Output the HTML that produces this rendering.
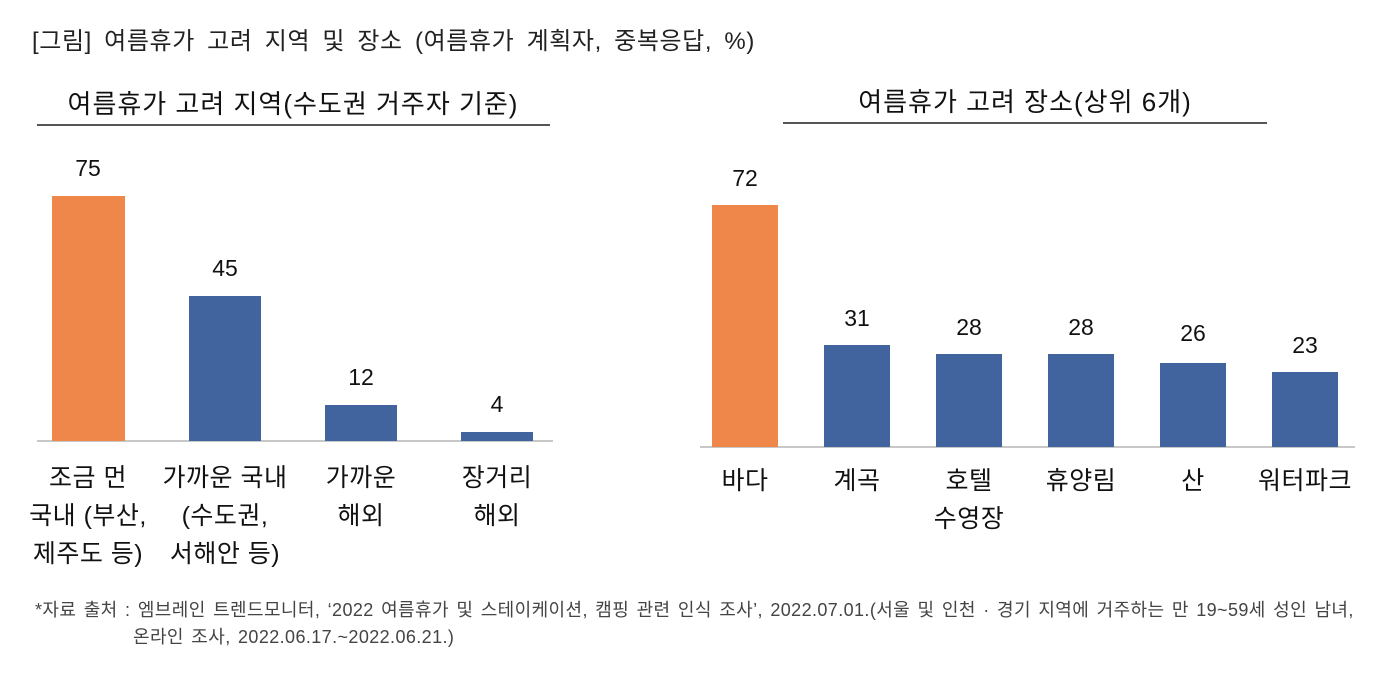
<!DOCTYPE html>
<html><head><meta charset="utf-8">
<style>
body{margin:0;width:1390px;height:674px;background:#fff;position:relative;overflow:hidden;font-family:"Liberation Sans","Noto Sans CJK KR",sans-serif;color:#111}
.a{position:absolute;white-space:nowrap}
.c{position:absolute;text-align:center;transform:translateX(-50%);white-space:nowrap}
.b{position:absolute}
.o{background:#F0874A}.u{background:#41649E}
.v{font-size:23px}
.cat{font-size:25px;line-height:38px;letter-spacing:0.5px}
</style></head><body>
<div class="a" style="left:32px;top:21px;font-size:24px;letter-spacing:0.6px;word-spacing:5px;color:#222">[그림] 여름휴가 고려 지역 및 장소 (여름휴가 계획자, 중복응답, %)</div>

<div class="c" style="left:293px;top:84px;font-size:26px;letter-spacing:1px">여름휴가 고려 지역(수도권 거주자 기준)</div>
<div class="b" style="left:37px;top:124px;width:513px;height:2px;background:#555"></div>
<div class="b" style="left:37px;top:440px;width:516px;height:2px;background:#c8c8c8"></div>
<div class="b o" style="left:52px;top:196px;width:73px;height:245px"></div>
<div class="b u" style="left:189px;top:296px;width:72px;height:145px"></div>
<div class="b u" style="left:325px;top:405px;width:72px;height:36px"></div>
<div class="b u" style="left:461px;top:432px;width:72px;height:9px"></div>
<div class="c v" style="left:88px;top:155px">75</div>
<div class="c v" style="left:225px;top:255px">45</div>
<div class="c v" style="left:361px;top:364px">12</div>
<div class="c v" style="left:497px;top:391px">4</div>
<div class="c cat" style="left:88px;top:459px">조금 먼<br>국내 (부산,<br>제주도 등)</div>
<div class="c cat" style="left:225px;top:459px">가까운 국내<br>(수도권,<br>서해안 등)</div>
<div class="c cat" style="left:361px;top:459px">가까운<br>해외</div>
<div class="c cat" style="left:497px;top:459px">장거리<br>해외</div>

<div class="c" style="left:1025px;top:82px;font-size:26px;letter-spacing:1px">여름휴가 고려 장소(상위 6개)</div>
<div class="b" style="left:783px;top:122px;width:484px;height:2px;background:#555"></div>
<div class="b" style="left:700px;top:446px;width:655px;height:2px;background:#c8c8c8"></div>
<div class="b o" style="left:712px;top:205px;width:66px;height:242px"></div>
<div class="b u" style="left:824px;top:345px;width:66px;height:102px"></div>
<div class="b u" style="left:936px;top:354px;width:66px;height:93px"></div>
<div class="b u" style="left:1048px;top:354px;width:66px;height:93px"></div>
<div class="b u" style="left:1160px;top:363px;width:66px;height:84px"></div>
<div class="b u" style="left:1272px;top:372px;width:66px;height:75px"></div>
<div class="c v" style="left:745px;top:165px">72</div>
<div class="c v" style="left:857px;top:305px">31</div>
<div class="c v" style="left:969px;top:314px">28</div>
<div class="c v" style="left:1081px;top:314px">28</div>
<div class="c v" style="left:1193px;top:320px">26</div>
<div class="c v" style="left:1305px;top:332px">23</div>
<div class="c cat" style="left:745px;top:462px">바다</div>
<div class="c cat" style="left:857px;top:462px">계곡</div>
<div class="c cat" style="left:969px;top:462px">호텔<br>수영장</div>
<div class="c cat" style="left:1081px;top:462px">휴양림</div>
<div class="c cat" style="left:1193px;top:462px">산</div>
<div class="c cat" style="left:1305px;top:462px">워터파크</div>

<div class="a" style="left:35px;top:597px;font-size:18px;letter-spacing:0.4px;word-spacing:2px;color:#444;line-height:27px">*자료 출처 : 엠브레인 트렌드모니터, ‘2022 여름휴가 및 스테이케이션, 캠핑 관련 인식 조사’, 2022.07.01.(서울 및 인천 · 경기 지역에 거주하는 만 19~59세 성인 남녀,<br><span style="padding-left:98px">온라인 조사, 2022.06.17.~2022.06.21.)</span></div>
</body></html>
